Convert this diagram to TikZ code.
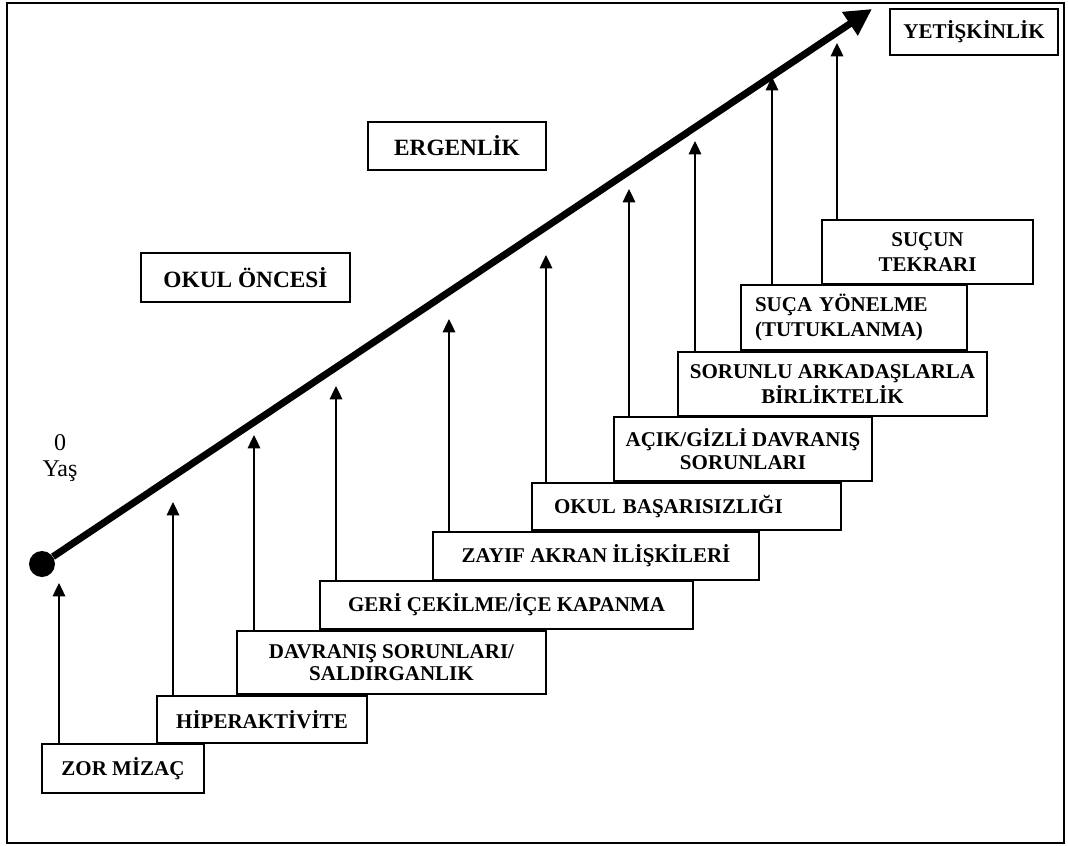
\documentclass[tikz,border=0pt]{standalone}
\usepackage{fontspec}
\setmainfont{Liberation Serif}
\usetikzlibrary{arrows.meta}
\begin{document}
\begin{tikzpicture}[x=0.75pt,y=-0.75pt,
  box/.style={draw, line width=0.9pt, inner sep=0pt, align=center,
    font=\bfseries\fontsize{15.75}{19}\selectfont},
  sz/.style 2 args={minimum width=#1*0.75pt, minimum height=#2*0.75pt},
  phase/.style={box, font=\bfseries\fontsize{17.5}{20}\selectfont},
  up/.style={line width=0.9pt, -{Triangle[length=10pt,width=9.5pt]}},
  mainarrow/.style={line width=5.25pt, -{Triangle[length=20pt,width=20pt]}},
]
\useasboundingbox (0,0) rectangle (1068,846);
\draw[line width=1.6pt] (7,3) rectangle (1064,843);

% stage boxes
\node[box, sz={162}{49}] (zor) at (123,768.5) {ZOR MİZAÇ};
\node[box, sz={210}{47}] (hip) at (262,719.5) {HİPERAKTİVİTE};
\node[box, sz={309}{63}, font=\bfseries\fontsize{15.75}{16}\selectfont] (dav) at (391.5,662.5) {DAVRANIŞ SORUNLARI/\\SALDIRGANLIK};
\node[box, sz={373}{48}] (ger) at (506.5,605) {GERİ ÇEKİLME/İÇE KAPANMA};
\node[box, sz={326}{48}] (zay) at (596,556) {ZAYIF AKRAN İLİŞKİLERİ};
\node[box, sz={309}{47}, align=left, text width=265*0.75pt] (oku) at (686.5,506.5) {OKUL BAŞARISIZLIĞI};
\node[box, sz={258}{64}, font=\bfseries\fontsize{15.75}{17}\selectfont] (acik) at (743,449) {AÇIK/GİZLİ DAVRANIŞ\\SORUNLARI};
\node[box, sz={309}{64}] (sor) at (832.5,384) {SORUNLU ARKADAŞLARLA\\BİRLİKTELİK};
\node[box, sz={226}{65}, align=left, text width=198*0.75pt] (suca) at (854,317.5) {SUÇA YÖNELME\\(TUTUKLANMA)};
\node[box, sz={211}{64}] (sucun) at (927.5,252) {SUÇUN\\TEKRARI};

% phase boxes
\node[box, sz={168}{46}] (yet) at (974,32) {YETİŞKİNLİK};
\node[phase, sz={178}{48}] (erg) at (457,146) {ERGENLİK};
\node[phase, sz={209}{49}] (onc) at (245.5,277.5) {OKUL ÖNCESİ};

% age label
\node[align=center, font=\fontsize{18}{19}\selectfont] (age) at (60,458) {0\\Yaş};

% main arrow
\node[circle, fill, inner sep=0pt, minimum size=26*0.75pt] (start) at (42,564) {};
\coordinate (end) at (872,9);
\draw[mainarrow] (start) -- (end);

% vertical arrows
\coordinate (t1) at (59,583);
\coordinate (t2) at (173,502);
\coordinate (t3) at (254,435);
\coordinate (t4) at (336,386);
\coordinate (t5) at (449,319);
\coordinate (t6) at (546,255);
\coordinate (t7) at (629,189);
\coordinate (t8) at (695,141);
\coordinate (t9) at (772,77);
\coordinate (t10) at (837,43);
\draw[up] (zor.north -| t1) -- (t1);
\draw[up] (hip.north -| t2) -- (t2);
\draw[up] (dav.north -| t3) -- (t3);
\draw[up] (ger.north -| t4) -- (t4);
\draw[up] (zay.north -| t5) -- (t5);
\draw[up] (oku.north -| t6) -- (t6);
\draw[up] (acik.north -| t7) -- (t7);
\draw[up] (sor.north -| t8) -- (t8);
\draw[up] (suca.north -| t9) -- (t9);
\draw[up] (sucun.north -| t10) -- (t10);
\end{tikzpicture}
\end{document}
